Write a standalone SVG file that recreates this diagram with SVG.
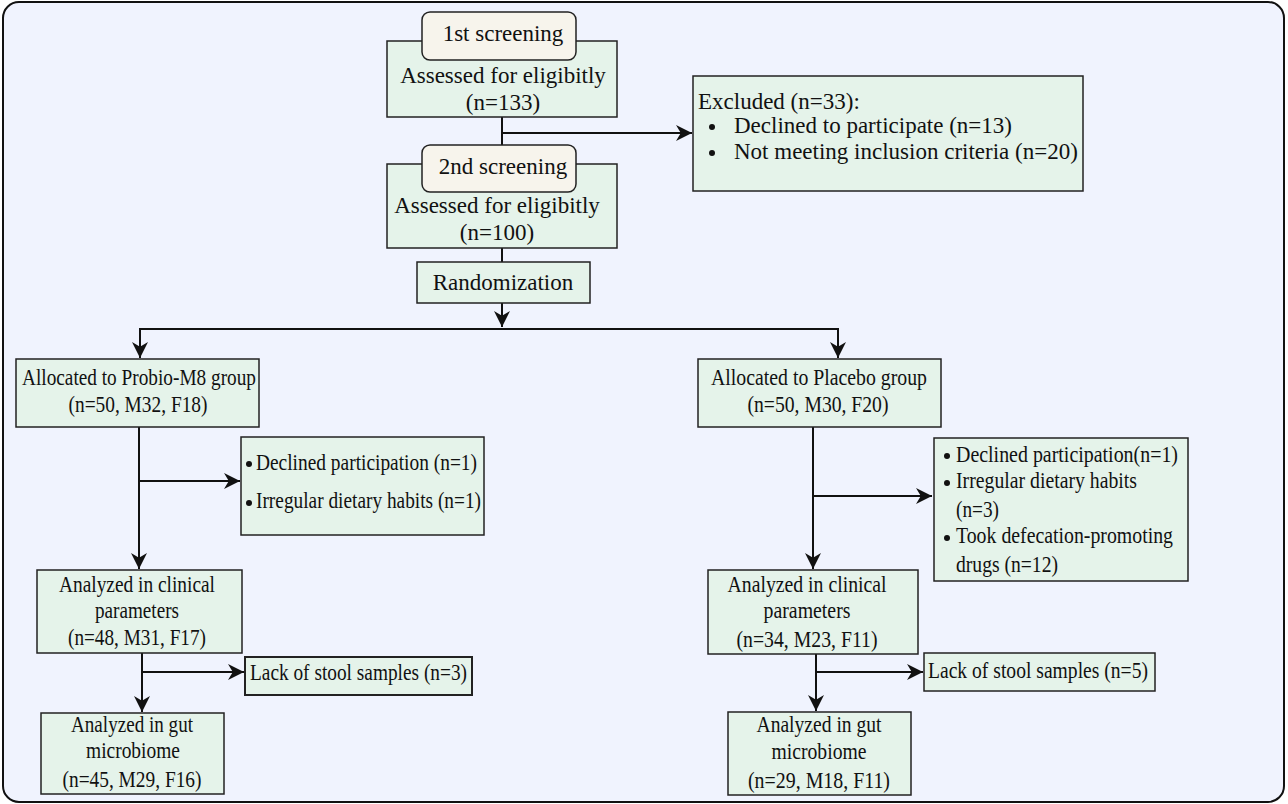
<svg xmlns="http://www.w3.org/2000/svg" width="1288" height="804" viewBox="0 0 1288 804">
<defs>
<style>
.bg{fill:#f0f3fe;stroke:#111;stroke-width:2}
.box{fill:#e5f3ea;stroke:#222;stroke-width:1.5}
.lbl{fill:#f7f4ec;stroke:#222;stroke-width:1.5}
text{font-family:'Liberation Serif','DejaVu Serif',serif;font-size:23px;fill:#111}
.c{text-anchor:middle}
.ln{fill:none;stroke:#111;stroke-width:2}
</style>
<marker id="ahb" viewBox="0 0 10 10" refX="10" refY="5" markerWidth="16" markerHeight="16" markerUnits="userSpaceOnUse" orient="auto">
<path d="M0,0 L10,5 L0,10 L3,5 Z" fill="#111"/>
</marker>
</defs>
<rect class="bg" x="3" y="2" width="1281" height="800" rx="16"/>

<g id="connectors">
<path class="ln" d="M502,117 V164"/>
<path class="ln" d="M502,133 H692" marker-end="url(#ahb)"/>
<path class="ln" d="M502,248 V262"/>
<path class="ln" d="M502,303 V327" marker-end="url(#ahb)"/>
<path class="ln" d="M140,358 V329 H838 V358" marker-end="url(#ahb)"/>
<path class="ln" d="M140,329 V358" marker-end="url(#ahb)"/>
<path class="ln" d="M139,427 V569" marker-end="url(#ahb)"/>
<path class="ln" d="M139,481 H240" marker-end="url(#ahb)"/>
<path class="ln" d="M813,427 V569" marker-end="url(#ahb)"/>
<path class="ln" d="M813,496 H932" marker-end="url(#ahb)"/>
<path class="ln" d="M142,653 V712" marker-end="url(#ahb)"/>
<path class="ln" d="M142,672 H244" marker-end="url(#ahb)"/>
<path class="ln" d="M816,654 V711" marker-end="url(#ahb)"/>
<path class="ln" d="M816,672 H923" marker-end="url(#ahb)"/>
</g>

<g id="screen1">
<rect class="box" x="387" y="41" width="230" height="76"/>
<rect class="lbl" x="422" y="12" width="154" height="48" rx="8"/>
<text class="c" x="503" y="41">1st screening</text>
<text class="c" x="503" y="83">Assessed for eligibitly</text>
<text class="c" x="503" y="110">(n=133)</text>
</g>

<g id="screen2">
<rect class="box" x="387" y="164" width="230" height="84"/>
<rect class="lbl" x="422" y="145" width="154" height="47" rx="8"/>
<text class="c" x="503" y="174">2nd screening</text>
<text class="c" x="497" y="213">Assessed for eligibitly</text>
<text class="c" x="497" y="240">(n=100)</text>
</g>

<g id="excluded">
<rect class="box" x="693" y="76" width="390" height="115"/>
<text x="698" y="109">Excluded (n=33):</text>
<circle cx="712" cy="127" r="3" fill="#111"/>
<text x="734" y="133">Declined to participate (n=13)</text>
<circle cx="712" cy="153" r="3" fill="#111"/>
<text x="734" y="159">Not meeting inclusion criteria (n=20)</text>
</g>

<g id="randomization">
<rect class="box" x="417" y="262" width="173" height="41"/>
<text class="c" x="503" y="290">Randomization</text>
</g>

<g id="probio">
<rect class="box" x="16" y="359" width="243" height="68"/>
<text class="c" x="139" y="385" textLength="234" lengthAdjust="spacingAndGlyphs">Allocated to Probio-M8 group</text>
<text class="c" x="138" y="412" textLength="139" lengthAdjust="spacingAndGlyphs">(n=50, M32, F18)</text>
</g>

<g id="probio-excl">
<rect class="box" x="241" y="437" width="243" height="98"/>
<circle cx="249" cy="464" r="3" fill="#111"/>
<text x="256" y="470" textLength="221" lengthAdjust="spacingAndGlyphs">Declined participation (n=1)</text>
<circle cx="249" cy="503" r="3" fill="#111"/>
<text x="256" y="508" textLength="225" lengthAdjust="spacingAndGlyphs">Irregular dietary habits (n=1)</text>
</g>

<g id="probio-clin">
<rect class="box" x="37" y="570" width="205" height="83"/>
<text class="c" x="137" y="592" textLength="156" lengthAdjust="spacingAndGlyphs">Analyzed in clinical</text>
<text class="c" x="137" y="618" textLength="84" lengthAdjust="spacingAndGlyphs">parameters</text>
<text class="c" x="137" y="645" textLength="138" lengthAdjust="spacingAndGlyphs">(n=48, M31, F17)</text>
</g>

<g id="probio-lack">
<rect class="box" x="245" y="657" width="227" height="38" style="stroke-width:2"/>
<text x="250" y="680" textLength="217" lengthAdjust="spacingAndGlyphs">Lack of stool samples (n=3)</text>
</g>

<g id="probio-gut">
<rect class="box" x="41" y="713" width="183" height="81"/>
<text class="c" x="132" y="732" textLength="122" lengthAdjust="spacingAndGlyphs">Analyzed in gut</text>
<text class="c" x="133" y="758" textLength="94" lengthAdjust="spacingAndGlyphs">microbiome</text>
<text class="c" x="132" y="787" textLength="139" lengthAdjust="spacingAndGlyphs">(n=45, M29, F16)</text>
</g>

<g id="placebo">
<rect class="box" x="698" y="359" width="243" height="68"/>
<text class="c" x="819" y="385" textLength="216" lengthAdjust="spacingAndGlyphs">Allocated to Placebo group</text>
<text class="c" x="818" y="412" textLength="141" lengthAdjust="spacingAndGlyphs">(n=50, M30, F20)</text>
</g>

<g id="placebo-excl">
<rect class="box" x="934" y="438" width="254" height="143"/>
<circle cx="947" cy="456" r="3" fill="#111"/>
<text x="956" y="462" textLength="222" lengthAdjust="spacingAndGlyphs">Declined participation(n=1)</text>
<circle cx="947" cy="483" r="3" fill="#111"/>
<text x="956" y="488" textLength="181" lengthAdjust="spacingAndGlyphs">Irregular dietary habits</text>
<text x="956" y="517" textLength="43" lengthAdjust="spacingAndGlyphs">(n=3)</text>
<circle cx="947" cy="538" r="3" fill="#111"/>
<text x="956" y="543" textLength="217" lengthAdjust="spacingAndGlyphs">Took defecation-promoting</text>
<text x="956" y="572" textLength="102" lengthAdjust="spacingAndGlyphs">drugs (n=12)</text>
</g>

<g id="placebo-clin">
<rect class="box" x="708" y="570" width="210" height="84"/>
<text class="c" x="807" y="592" textLength="159" lengthAdjust="spacingAndGlyphs">Analyzed in clinical</text>
<text class="c" x="807" y="618" textLength="87" lengthAdjust="spacingAndGlyphs">parameters</text>
<text class="c" x="807" y="647" textLength="141" lengthAdjust="spacingAndGlyphs">(n=34, M23, F11)</text>
</g>

<g id="placebo-lack">
<rect class="box" x="924" y="653" width="231" height="38"/>
<text x="928" y="678" textLength="220" lengthAdjust="spacingAndGlyphs">Lack of stool samples (n=5)</text>
</g>

<g id="placebo-gut">
<rect class="box" x="728" y="712" width="183" height="83"/>
<text class="c" x="819" y="732" textLength="125" lengthAdjust="spacingAndGlyphs">Analyzed in gut</text>
<text class="c" x="819" y="759" textLength="95" lengthAdjust="spacingAndGlyphs">microbiome</text>
<text class="c" x="819" y="788" textLength="142" lengthAdjust="spacingAndGlyphs">(n=29, M18, F11)</text>
</g>
</svg>
